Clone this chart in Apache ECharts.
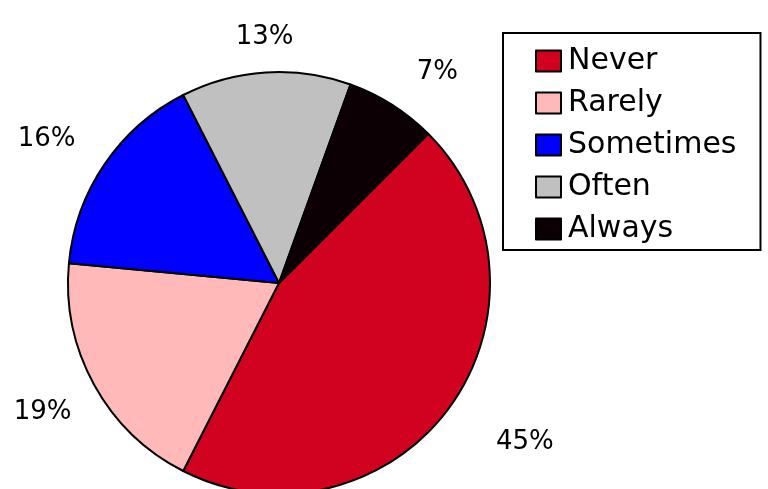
<!DOCTYPE html>
<html><head><meta charset="utf-8">
<script src="https://cdn.jsdelivr.net/npm/echarts@6/dist/echarts.min.js"></script>
<style>html,body{margin:0;padding:0;background:#fff}#c{width:768px;height:489px}</style>
</head><body><div id="c"></div>
<script>
const categories = ['Never', 'Rarely', 'Sometimes', 'Often', 'Always'];
const values = [45, 19, 16, 13, 7];
const sliceColors = ['#d0021f', '#ffb9b9', '#0000ff', '#c0c0c0', '#0c0004'];

const chart = echarts.init(document.getElementById('c'), null, {renderer: 'canvas'});
const labelNudge = [[13, 15], [13, 11], [5, -5], [35, 0], [1, -3]];
chart.setOption({
  animation: false,
  backgroundColor: '#ffffff',
  legend: {
    orient: 'vertical',
    left: 503, top: 33,
    padding: [13, 24, 6, 32],
    borderColor: '#000', borderWidth: 2,
    itemWidth: 25, itemHeight: 21, itemGap: 12,
    icon: 'rect',
    itemStyle: {borderColor: '#000', borderWidth: 2},
    textStyle: {fontFamily: 'DejaVu Sans', fontSize: 30, color: '#000', padding: [0,0,0,2]},
    data: categories
  },
  series: [{
    type: 'pie',
    center: [279, 283],
    radius: 211,
    startAngle: 45,
    clockwise: true,
    avoidLabelOverlap: false,
    itemStyle: {borderColor: '#000', borderWidth: 2},
    label: {
      show: true, position: 'outside', formatter: '{c}%',
      fontFamily: 'DejaVu Sans', fontSize: 26, color: '#000'
    },
    labelLine: {show: false, length: 35, length2: 0},
    labelLayout: function (p) {
      const n = labelNudge[p.dataIndex];
      return {dx: n[0], dy: n[1]};
    },
    data: categories.map((n, i) => ({name: n, value: values[i], itemStyle: {color: sliceColors[i]}}))
  }]
});
</script></body></html>
